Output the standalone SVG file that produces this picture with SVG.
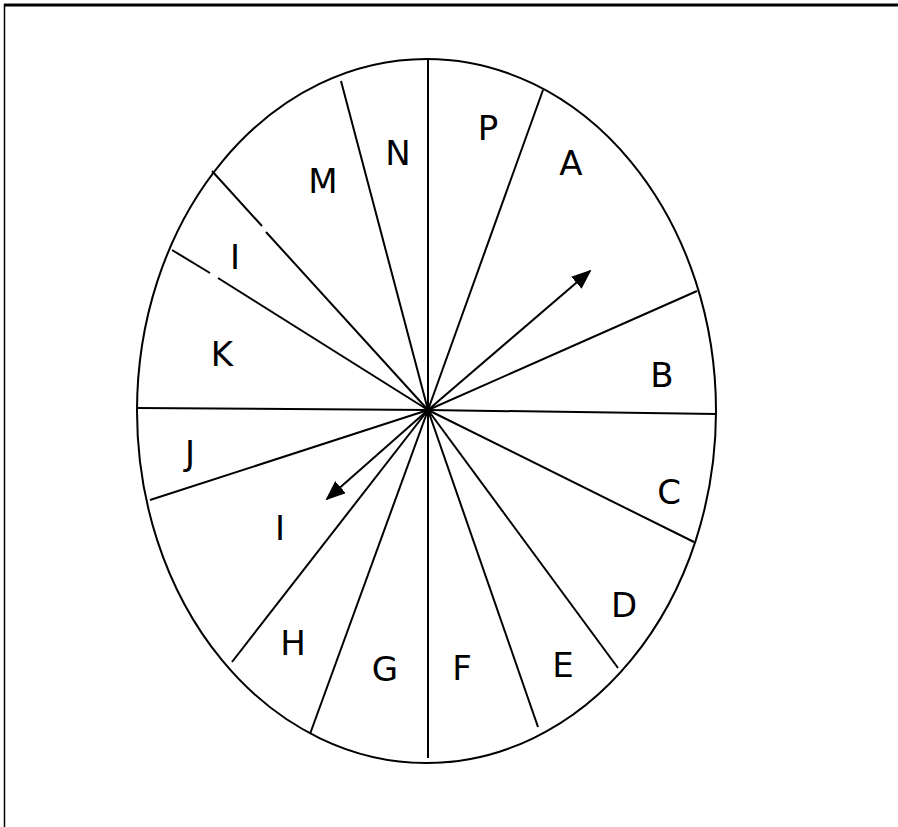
<svg xmlns="http://www.w3.org/2000/svg" width="898" height="827" viewBox="0 0 898 827">
<defs>
<style>
.ln{stroke:#000;stroke-width:2;fill:none}
.lb{font-family:"DejaVu Sans",Verdana,sans-serif;font-size:34px;fill:#000;text-anchor:middle}
</style>
<marker id="ah2" markerWidth="20" markerHeight="16" refX="18" refY="8" orient="auto" markerUnits="userSpaceOnUse" viewBox="0 0 20 16">
<path d="M0,0 L20,8 L0,16 z" fill="#000"/>
</marker>
</defs>
<rect width="898" height="827" fill="#fff"/>
<g id="frame">
<line x1="4" y1="5" x2="898" y2="5" stroke="#000" stroke-width="3"/>
<line x1="4.5" y1="4" x2="4.5" y2="827" stroke="#000" stroke-width="1.5"/>
</g>
<g id="wheel">
<ellipse class="ln" cx="426.5" cy="411" rx="289.5" ry="352"/>
</g>
<g id="spokes">
<line class="ln" x1="428" y1="410" x2="428" y2="60"/>
<line class="ln" x1="428" y1="410" x2="341" y2="81"/>
<line class="ln" x1="428" y1="410" x2="266" y2="232"/>
<line class="ln" x1="262" y1="226" x2="212" y2="171"/>
<line class="ln" x1="428" y1="410" x2="218" y2="278"/>
<line class="ln" x1="210" y1="273" x2="172" y2="250"/>
<line class="ln" x1="428" y1="410" x2="137" y2="408"/>
<line class="ln" x1="428" y1="410" x2="150" y2="500"/>
<line class="ln" x1="428" y1="410" x2="232" y2="662"/>
<line class="ln" x1="428" y1="410" x2="310" y2="734"/>
<line class="ln" x1="428" y1="410" x2="428" y2="758"/>
<line class="ln" x1="428" y1="410" x2="538" y2="727"/>
<line class="ln" x1="428" y1="410" x2="618" y2="668"/>
<line class="ln" x1="428" y1="410" x2="694" y2="542"/>
<line class="ln" x1="428" y1="410" x2="716" y2="414"/>
<line class="ln" x1="428" y1="410" x2="697" y2="291"/>
<line class="ln" x1="428" y1="410" x2="543" y2="90"/>
</g>
<g id="connectors">
<line class="ln" x1="428" y1="410" x2="590" y2="271" marker-end="url(#ah2)"/>
<line class="ln" x1="428" y1="410" x2="327" y2="499" marker-end="url(#ah2)"/>
</g>
<g id="labels">
<g id="seg-P"><text class="lb" x="488" y="140">P</text></g>
<g id="seg-N"><text class="lb" x="398" y="165">N</text></g>
<g id="seg-M"><text class="lb" x="323" y="193">M</text></g>
<g id="seg-A"><text class="lb" x="571" y="175">A</text></g>
<g id="seg-I1"><text class="lb" x="235" y="269">I</text></g>
<g id="seg-K"><text class="lb" x="222" y="366">K</text></g>
<g id="seg-J"><text class="lb" x="190" y="465">J</text></g>
<g id="seg-I2"><text class="lb" x="280" y="540">I</text></g>
<g id="seg-H"><text class="lb" x="293" y="655">H</text></g>
<g id="seg-G"><text class="lb" x="385" y="681">G</text></g>
<g id="seg-F"><text class="lb" x="462" y="680">F</text></g>
<g id="seg-E"><text class="lb" x="563" y="677">E</text></g>
<g id="seg-D"><text class="lb" x="624" y="617">D</text></g>
<g id="seg-C"><text class="lb" x="669" y="504">C</text></g>
<g id="seg-B"><text class="lb" x="662" y="387">B</text></g>
</g>
</svg>
